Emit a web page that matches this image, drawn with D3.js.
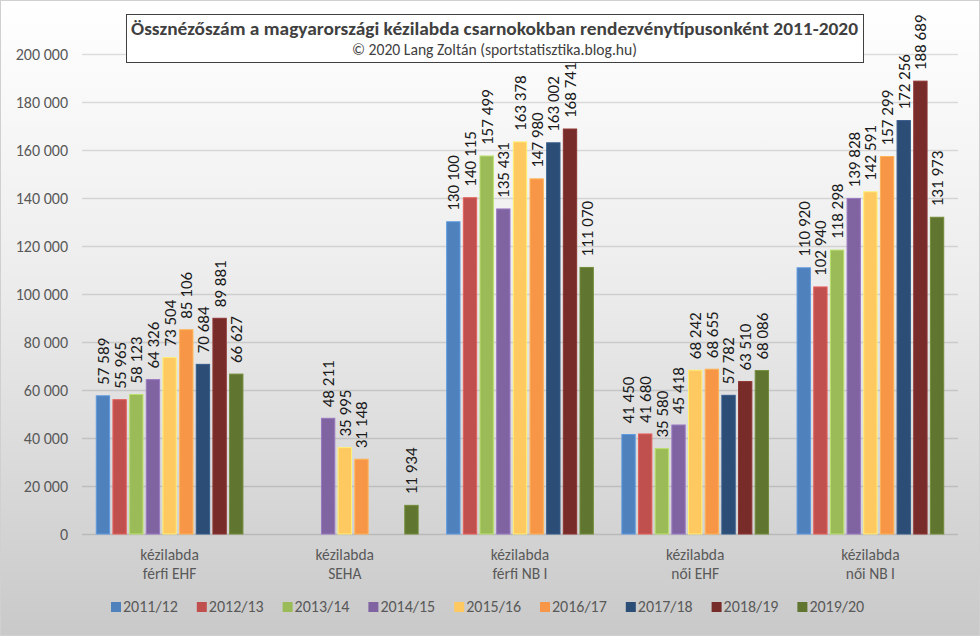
<!DOCTYPE html>
<html><head><meta charset="utf-8">
<script src="https://cdn.jsdelivr.net/npm/d3@7"></script>
<style>body{margin:0;background:#fff}svg{display:block}</style>
</head><body>
<svg id="c" width="980" height="636"></svg>
<script>
const categories = [["kézilabda","férfi EHF"],["kézilabda","SEHA"],["kézilabda","férfi NB I"],["kézilabda","női EHF"],["kézilabda","női NB I"]];
const seriesNames = ["2011/12","2012/13","2013/14","2014/15","2015/16","2016/17","2017/18","2018/19","2019/20"];
const s2011 = [57589, null, 130100, 41450, 110920];
const s2012 = [55965, null, 140115, 41680, 102940];
const s2013 = [58123, null, 157499, 35580, 118298];
const s2014 = [64326, 48211, 135431, 45418, 139828];
const s2015 = [73504, 35995, 163378, 68242, 142591];
const s2016 = [85106, 31148, 147980, 68655, 157299];
const s2017 = [70684, null, 163002, 57782, 172256];
const s2018 = [89881, null, 168741, 63510, 188689];
const s2019 = [66627, 11934, 111070, 68086, 131973];
const seriesValues = [s2011,s2012,s2013,s2014,s2015,s2016,s2017,s2018,s2019];
const colors = ["#4F81BD","#C0504D","#9BBB59","#8064A2","#FFC961","#F79646","#2C4D75","#772C2A","#5F7530"];
const yTicks = [0,20000,40000,60000,80000,100000,120000,140000,160000,180000,200000];
const titleText = "Össznézőszám a magyarországi kézilabda csarnokokban rendezvénytípusonként 2011-2020";
const subtitleText = "© 2020 Lang Zoltán (sportstatisztika.blog.hu)";

const W = 980, H = 636;
const FONT = "Carlito, 'Liberation Sans Narrow', 'Open Sans', sans-serif";
const svg = d3.select("#c");
const fmt = v => d3.format(",")(v).replace(/,/g, " ");

const defs = svg.append("defs");
const g = defs.append("linearGradient").attr("id","bg").attr("x1",0).attr("y1",0).attr("x2",0).attr("y2",1);
g.append("stop").attr("offset","0%").attr("stop-color","#ffffff");
g.append("stop").attr("offset","45%").attr("stop-color","#ececec");
g.append("stop").attr("offset","100%").attr("stop-color","#c9c9c9");

svg.append("rect").attr("x",0.5).attr("y",0.5).attr("width",W-1).attr("height",H-1)
  .attr("fill","url(#bg)").attr("stroke","#d0d0d0");

const x0 = d3.scaleBand().domain(d3.range(categories.length)).range([82, 958]).paddingInner(0).paddingOuter(0);
const x1 = d3.scaleBand().domain(d3.range(seriesNames.length)).range([0, 150]).paddingInner(0.2).paddingOuter(0.1);
const y = d3.scaleLinear().domain([0, 200000]).range([534, 54]);

// gridlines
svg.append("g").selectAll("line").data(yTicks).join("line")
  .attr("x1",82).attr("x2",958).attr("y1",d=>Math.round(y(d))+0.5).attr("y2",d=>Math.round(y(d))+0.5)
  .attr("stroke","#000").attr("stroke-opacity",0.12).attr("stroke-width",1.3);

// y axis labels
const yAxis = d3.axisLeft(y).tickValues(yTicks).tickFormat(fmt).tickSize(0).tickPadding(0);
const ya = svg.append("g").attr("transform","translate(68,0)").call(yAxis);
ya.select(".domain").remove();
ya.selectAll("text").attr("font-family",FONT).attr("font-size",16).attr("fill","#595959");

// bars
const groupOffset = (x0.bandwidth() - 150) / 2;
const grp = svg.append("g");
seriesValues.forEach((vals, si) => {
  const data = vals.map((v, ci) => ({v, ci})).filter(d => d.v != null);
  grp.append("g").selectAll("rect").data(data).join("rect")
    .attr("x", d => x0(d.ci) + groupOffset + x1(si))
    .attr("y", d => y(d.v))
    .attr("width", x1.bandwidth())
    .attr("height", d => y(0) - y(d.v))
    .attr("fill", colors[si])
    .attr("stroke", d3.color(colors[si]).brighter(0.5))
    .attr("stroke-width", 1);
  grp.append("g").selectAll("text").data(data).join("text")
    .attr("transform", d => `translate(${x0(d.ci) + groupOffset + x1(si) + x1.bandwidth()/2},${y(d.v) - 11}) rotate(-90)`)
    .attr("dy","0.35em")
    .attr("font-family",FONT).attr("font-size",17).attr("fill","#1a1a1a")
    .text(d => fmt(d.v));
});

// category labels
const cat = svg.append("g");
categories.forEach((lines, ci) => {
  lines.forEach((t, li) => {
    cat.append("text").attr("x", x0(ci) + x0.bandwidth()/2).attr("y", 560 + li*19)
      .attr("text-anchor","middle").attr("font-family",FONT).attr("font-size",15.5).attr("fill","#595959").text(t);
  });
});

// legend
const leg = svg.append("g");
seriesNames.forEach((n, i) => {
  const lx = 111 + i*85.8;
  leg.append("rect").attr("x", lx).attr("y", 602).attr("width", 10).attr("height", 10).attr("fill", colors[i]);
  leg.append("text").attr("x", lx + 12).attr("y", 612).attr("font-family",FONT).attr("font-size",16).attr("fill","#595959").text(n);
});

// title box
svg.append("rect").attr("x",126.5).attr("y",14.5).attr("width",737).attr("height",48)
  .attr("fill","#ffffff").attr("stroke","#404040").attr("stroke-width",1);
svg.append("text").attr("x",494.5).attr("y",35).attr("text-anchor","middle")
  .attr("font-family",FONT).attr("font-size",19).attr("font-weight","bold").attr("fill","#404040")
  .attr("textLength",727).attr("lengthAdjust","spacingAndGlyphs").text(titleText);
svg.append("text").attr("x",494.5).attr("y",55).attr("text-anchor","middle")
  .attr("font-family",FONT).attr("font-size",16).attr("fill","#404040")
  .attr("textLength",285).attr("lengthAdjust","spacingAndGlyphs").text(subtitleText);
</script>
</body></html>
